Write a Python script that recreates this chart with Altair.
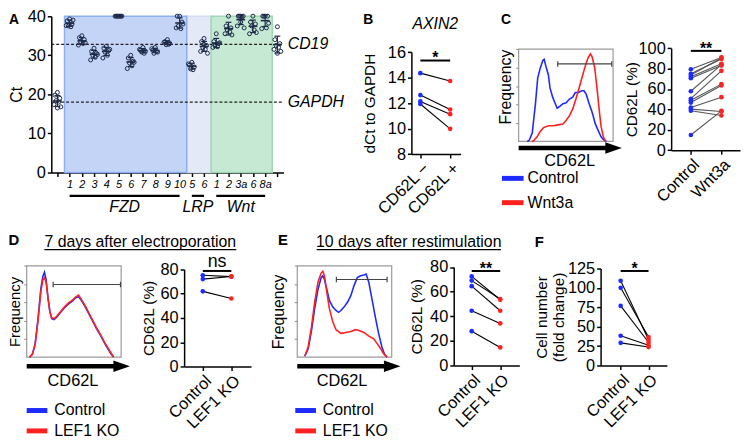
import json
import altair as alt
import pandas as pd

FONT = "Liberation Sans"
BLUE = "#1e2bff"
RED = "#ff2020"
NAVY = "#1d2a48"
TICK_FS = 16.5

# ---------------- data ----------------
A_LABELS = ["", "1", "2", "3", "4", "5", "6", "7", "8", "9", "10", "5", "6", "1", "2", "3a", "6", "8a", ""]
A_CT = [
    [20.5, 19.8, 19.0, 18.4, 18.0, 17.4, 16.8, 16.5],
    [39.3, 38.8, 38.0, 37.5, 37.3, 37.6, 39.0],
    [35.0, 34.5, 34.0, 33.5, 33.0, 32.6, 33.2],
    [31.8, 31.0, 30.5, 30.0, 29.5, 28.8, 30.2],
    [32.3, 31.8, 31.2, 30.8, 30.0, 29.3, 31.5],
    [40.0, 40.0, 40.0, 40.0, 40.0, 40.0, 40.0],
    [30.0, 29.3, 28.5, 28.0, 27.3, 26.6, 28.2],
    [32.0, 31.3, 31.0, 30.8, 30.5, 31.5],
    [32.0, 31.3, 30.8, 30.5, 31.0, 31.7],
    [34.0, 33.5, 33.0, 32.7, 32.8, 33.3],
    [40.0, 40.0, 38.5, 37.5, 36.8, 37.0, 38.0],
    [28.2, 27.5, 27.0, 26.5, 26.3, 27.8],
    [34.3, 33.5, 32.5, 32.0, 31.5, 31.0, 30.5, 32.8],
    [35.5, 33.5, 33.0, 32.5, 32.2, 32.0, 33.2],
    [40.0, 37.5, 37.0, 36.5, 36.0, 35.5, 35.2],
    [40.0, 40.0, 40.0, 40.0, 39.8, 37.5, 37.0, 38.5],
    [40.0, 38.5, 38.0, 37.5, 36.5, 35.5, 35.8],
    [40.0, 40.0, 40.0, 40.0, 37.0, 36.8, 38.2],
    [37.3, 34.0, 33.0, 32.5, 32.0, 31.5, 31.0, 30.5],
]
A_GROUPS = ["LRP", "FZD", "Wnt"]
A_GROUP_FIRST = [11, 1, 13]
A_GROUP_LAST = [12, 10, 17]
A_REF_NAMES = ["CD19", "GAPDH"]
A_REF_CT = [32.8, 18.0]

B_CATS = ["CD62L \u2212", "CD62L +"]
B_NEG = [14.35, 12.63, 12.13, 11.93]
B_POS = [13.73, 11.50, 11.13, 9.98]

C_HIST_NAMES = ["Control", "Wnt3a"]
C_X_CTRL = [9, 11, 14.4, 17.8, 20.2, 23, 25.7, 27, 29, 31.5, 33.2, 36, 38.4, 40.8, 43.5, 46.9, 50.3, 53.8,
            57.2, 60, 63.4, 66.8, 69.2, 71.6, 74.3, 77.7, 81.2, 84.6, 87.3, 89.7, 93]
C_Y_CTRL = [0, 0.01, 0.09, 0.41, 0.69, 0.80, 0.88, 0.89, 0.81, 0.72, 0.58, 0.48, 0.42, 0.36, 0.38, 0.41,
            0.42, 0.46, 0.48, 0.53, 0.53, 0.55, 0.55, 0.51, 0.42, 0.32, 0.19, 0.11, 0.05, 0.02, 0.0]
C_X_WNT = [14, 16, 19.5, 23, 26.4, 31.5, 36.6, 41.8, 46.9, 50.3, 53.8, 57.2, 60.6, 64, 67.5, 70.9, 73.6,
           76, 77.7, 80.5, 82.9, 85.3, 87.3, 89.7, 92]
C_Y_WNT = [0, 0.01, 0.05, 0.11, 0.15, 0.17, 0.17, 0.18, 0.19, 0.23, 0.28, 0.35, 0.46, 0.58, 0.71, 0.83,
           0.91, 0.95, 0.92, 0.80, 0.58, 0.34, 0.16, 0.05, 0.0]
C_CATS = ["Control", "Wnt3a"]
C_CTRL = [79.4, 75.0, 73.7, 72.0, 70.5, 57.8, 50.5, 49.0, 46.7, 41.9, 40.3, 38.7, 14.9]
C_WNT = [91.0, 89.5, 90.5, 84.8, 83.0, 84.0, 77.8, 64.8, 63.5, 52.0, 38.0, 34.0, 38.5]

D_HIST_NAMES = ["Control", "LEF1 KO"]
D_X = [3, 6, 9, 12, 15, 17, 18.8, 20.5, 22.5, 24.5, 26.5, 29, 32, 36, 40, 44, 48, 52, 55, 58, 62, 66, 70,
       74, 78, 82, 86, 89, 92]
D_Y_CTRL = [0.0, 0.03, 0.15, 0.42, 0.75, 0.88, 0.93, 0.85, 0.66, 0.50, 0.42, 0.41, 0.44, 0.49, 0.54, 0.58,
            0.61, 0.65, 0.66, 0.62, 0.55, 0.47, 0.39, 0.31, 0.24, 0.16, 0.09, 0.04, 0.0]
D_Y_KO = [0.0, 0.03, 0.14, 0.40, 0.72, 0.84, 0.87, 0.82, 0.65, 0.50, 0.43, 0.42, 0.45, 0.50, 0.55, 0.59,
          0.62, 0.66, 0.68, 0.63, 0.56, 0.48, 0.40, 0.32, 0.25, 0.17, 0.10, 0.05, 0.0]
D_CATS = ["Control", "LEF1 KO"]
D_CTRL = [75.2, 72.0, 61.9]
D_KO = [74.0, 74.2, 56.0]

E_X_CTRL = [8, 11.5, 14.9, 18.4, 21.9, 25.3, 27, 28.8, 31.3, 34, 37.5, 41, 43.8, 46.2, 49.7, 53.1, 56.6,
            60, 63.5, 67, 70.5, 72.9, 75.7, 79.2, 82.6, 86.1, 89.6, 92.4, 95]
E_Y_CTRL = [0.01, 0.09, 0.28, 0.53, 0.74, 0.87, 0.89, 0.85, 0.74, 0.62, 0.55, 0.51, 0.49, 0.51, 0.55, 0.60,
            0.67, 0.78, 0.87, 0.89, 0.90, 0.91, 0.82, 0.63, 0.44, 0.26, 0.11, 0.03, 0.0]
E_X_KO = [8, 11.5, 14.9, 18.4, 21.9, 25.3, 27, 28.8, 31.3, 34, 37.5, 41, 46.2, 51.4, 56.6, 61.8, 65.3, 70.5,
          75.7, 80.9, 84.4, 87.8, 91.3, 95]
E_Y_KO = [0.01, 0.11, 0.32, 0.60, 0.82, 0.92, 0.94, 0.89, 0.71, 0.53, 0.39, 0.30, 0.26, 0.27, 0.28, 0.30,
          0.29, 0.27, 0.23, 0.20, 0.15, 0.10, 0.04, 0.0]
E_CTRL = [72.4, 69.0, 64.5, 44.5, 27.9]
E_KO = [53.4, 54.0, 44.5, 34.2, 14.7]

F_CTRL = [109.0, 100.0, 76.7, 38.3, 29.2]
F_KO = [33.3, 36.7, 30.0, 26.0, 23.75]

# ---------------- layout / style constants ----------------
JITTER = [0, -0.2, 0.2, -0.1, 0.1, -0.28, 0.28, 0.0]
REGION_FILL = {"FZD": "#c4d4f6", "LRP": "#e3e9f7", "Wnt": "#c6e9d3"}
REGION_STROKE = {"FZD": "#8db0f2", "LRP": "#d5def3", "Wnt": "#9fd8b2"}

# the drawing surface starts 8px into the page; map page-pixel layout into it
W, H = 742, 434
SX, SY = 741 / 745, 433 / 441


def cx(p):
    return (p - 3) * SX


def cy(p):
    return p * SY


def sc(domain, page_rng, axis="x"):
    f = cx if axis == "x" else cy
    return alt.Scale(domain=domain, range=[f(page_rng[0]), f(page_rng[1])], nice=False, zero=False)


def to_data(domain, page_rng, p):
    return domain[0] + (p - page_rng[0]) / (page_rng[1] - page_rng[0]) * (domain[1] - domain[0])


def yax(page_x, values, title, pad, **kw):
    return alt.Axis(orient="left", offset=-cx(page_x), values=values, title=title, titlePadding=pad, **kw)


def xax(page_y, values, expr, angle=0, **kw):
    return alt.Axis(orient="bottom", offset=cy(page_y) - H, values=values, labelExpr=expr,
                    labelAngle=angle, title=None, **kw)


def text_at(x, y, t, xs, ys, **mk):
    df = pd.DataFrame({"x": [x], "y": [y], "t": [t]})
    return alt.Chart(df).mark_text(**mk).encode(
        x=alt.X("x:Q", scale=xs, axis=None), y=alt.Y("y:Q", scale=ys, axis=None), text="t:N")


def hseg(x0, x1, y, xs, ys, **mk):
    df = pd.DataFrame({"x0": [x0], "x1": [x1], "y": [y]})
    return alt.Chart(df).mark_rule(**mk).encode(
        x=alt.X("x0:Q", scale=xs, axis=None), x2="x1:Q", y=alt.Y("y:Q", scale=ys, axis=None))


def vsegs(xs_list, y0, y1, xs, ys, **mk):
    df = pd.DataFrame({"x": xs_list, "y0": [y0] * len(xs_list), "y1": [y1] * len(xs_list)})
    return alt.Chart(df).mark_rule(**mk).encode(
        x=alt.X("x:Q", scale=xs, axis=None), y=alt.Y("y0:Q", scale=ys, axis=None), y2="y1:Q")


layers = []

# ================= Panel A =================
AXs = sc([-0.5, 18.5], [47, 283], "x")
AYs = sc([0, 40], [167, 6], "y")
a_rows = []
for i, vals in enumerate(A_CT):
    for j, v in enumerate(vals):
        a_rows.append({"idx": i, "ct": v, "jit": JITTER[j % len(JITTER)]})
a_df = pd.DataFrame(a_rows)

reg_df = pd.DataFrame({"g": A_GROUPS, "first": A_GROUP_FIRST, "last": A_GROUP_LAST})
reg_df["fill"] = reg_df["g"].map(REGION_FILL)
reg_df["stroke"] = reg_df["g"].map(REGION_STROKE)

layers.append(
    alt.Chart(reg_df).transform_calculate(x0="datum.first - 0.42", x1="datum.last + 0.58", y0="0", y1="40")
    .mark_rect(strokeWidth=1.5)
    .encode(x=alt.X("x0:Q", scale=AXs, axis=None), x2="x1:Q",
            y=alt.Y("y0:Q", scale=AYs, axis=None), y2="y1:Q",
            fill=alt.Fill("fill:N", scale=None), stroke=alt.Stroke("stroke:N", scale=None))
)
ref_df = pd.DataFrame({"name": A_REF_NAMES, "ct": A_REF_CT})
layers.append(
    alt.Chart(ref_df).transform_calculate(x0="-0.5", x1="18.5")
    .mark_rule(strokeDash=[3, 2], color="#222", strokeWidth=1.2)
    .encode(x=alt.X("x0:Q", scale=AXs, axis=None), x2="x1:Q", y=alt.Y("ct:Q", scale=AYs, axis=None))
)
layers.append(
    alt.Chart(ref_df).transform_calculate(xt="18.85")
    .mark_text(align="left", baseline="middle", fontStyle="italic", fontSize=16)
    .encode(x=alt.X("xt:Q", scale=AXs, axis=None), y=alt.Y("ct:Q", scale=AYs, axis=None), text="name:N")
)
layers.append(
    alt.Chart(a_df).transform_calculate(xj="datum.idx + datum.jit")
    .mark_point(filled=False, size=16, color=NAVY, strokeWidth=1, opacity=1)
    .encode(
        x=alt.X("xj:Q", scale=AXs,
                axis=xax(167, list(range(19)), "%s[datum.value]" % json.dumps(A_LABELS),
                         labelFontStyle="italic", labelFontSize=11, labelPadding=2, tickSize=4)),
        y=alt.Y("ct:Q", scale=AYs, axis=yax(47, [0, 10, 20, 30, 40], "Ct", 3, titleFontSize=16)),
    )
)
agg = alt.Chart(a_df).transform_aggregate(m="mean(ct)", s="stdev(ct)", groupby=["idx"]).transform_calculate(
    lo="datum.m - datum.s", hi="datum.m + datum.s", cl="datum.idx - 0.24", cr="datum.idx + 0.24",
    ml="datum.idx - 0.36", mr="datum.idx + 0.36")
layers.append(agg.mark_rule(color=NAVY, strokeWidth=1.2).encode(
    x=alt.X("idx:Q", scale=AXs, axis=None), y=alt.Y("lo:Q", scale=AYs, axis=None), y2="hi:Q"))
for fld in ["lo", "hi"]:
    layers.append(agg.mark_rule(color=NAVY, strokeWidth=1.2).encode(
        x=alt.X("cl:Q", scale=AXs, axis=None), x2="cr:Q", y=alt.Y(fld + ":Q", scale=AYs, axis=None)))
layers.append(agg.mark_rule(color=NAVY, strokeWidth=1.6).encode(
    x=alt.X("ml:Q", scale=AXs, axis=None), x2="mr:Q", y=alt.Y("m:Q", scale=AYs, axis=None)))
layers.append(
    alt.Chart(reg_df).transform_calculate(yb="-5.96")
    .mark_rule(color="black", strokeWidth=2.2)
    .encode(x=alt.X("first:Q", scale=AXs, axis=None), x2="last:Q", y=alt.Y("yb:Q", scale=AYs, axis=None))
)
layers.append(
    alt.Chart(reg_df).transform_calculate(xm="(datum.first + datum.last) / 2", yt="-8.8")
    .mark_text(fontStyle="italic", fontSize=16, baseline="middle")
    .encode(x=alt.X("xm:Q", scale=AXs, axis=None), y=alt.Y("yt:Q", scale=AYs, axis=None), text="g:N")
)
layers.append(text_at(-3.56, 39.1, "A", AXs, AYs, fontSize=14, fontWeight="bold", baseline="middle"))


# ================= paired panels =================
def paired(ctrl, treat, cats, xs, ys, yaxis_px, xaxis_py, yticks, ytitle, tpad, line_color, sig, sig_y,
           sig_size, sig_dy, sig_weight="bold", **ykw):
    n = len(ctrl)
    wide = pd.DataFrame({"a": ctrl, "b": treat})
    out = [
        alt.Chart(wide).transform_calculate(x0="0", x1="1")
        .mark_rule(color=line_color, strokeWidth=1.1)
        .encode(x=alt.X("x0:Q", scale=xs, axis=None), x2="x1:Q",
                y=alt.Y("a:Q", scale=ys, axis=None), y2="b:Q")
    ]
    long = pd.DataFrame({"pos": [0] * n + [1] * n, "val": list(ctrl) + list(treat),
                         "grp": [cats[0]] * n + [cats[1]] * n})
    expr = "datum.value == 0 ? '%s' : '%s'" % (cats[0], cats[1])
    out.append(
        alt.Chart(long).mark_circle(size=22, opacity=1)
        .encode(
            x=alt.X("pos:Q", scale=xs, axis=xax(xaxis_py, [0, 1], expr, angle=-45, labelFontSize=16.5,
                                                 tickSize=4)),
            y=alt.Y("val:Q", scale=ys, axis=yax(yaxis_px, yticks, ytitle, tpad, **ykw)),
            color=alt.Color("grp:N", scale=alt.Scale(domain=cats, range=[BLUE, RED]), legend=None),
        )
    )
    out.append(hseg(0, 1, sig_y, xs, ys, color="black", strokeWidth=2))
    out.append(text_at(0.5, sig_y, sig, xs, ys, fontSize=sig_size, fontWeight=sig_weight,
                       baseline="alphabetic", dy=sig_dy))
    return out


# ---- B
BXs = sc([-0.3, 1.35], [413, 463], "x")
BYs = sc([8, 16], [148, 43], "y")
layers += paired(B_NEG, B_POS, B_CATS, BXs, BYs, 413, 148, [8, 10, 12, 14, 16], "dCt to GAPDH", 10,
                 "black", "*", 15.34, 16, 3)
layers.append(text_at(0.5, 18.2, "AXIN2", BXs, BYs, fontSize=16, fontStyle="italic", baseline="middle"))
layers.append(text_at(-1.75, 18.48, "B", BXs, BYs, fontSize=14, fontWeight="bold", baseline="middle"))

# ---- C scatter
CSX = sc([-0.645, 1.61], [677, 747], "x")
CSY = sc([0, 100], [144, 39], "y")
layers += paired(C_CTRL, C_WNT, C_CATS, CSX, CSY, 677, 144, [0, 20, 40, 60, 80, 100], "CD62L (%)", -1,
                 "#555555", "**", 97.4, 16, 3)
# ---- D scatter
DSX = sc([-0.655, 1.69], [182, 250], "x")
DSY = sc([0, 80], [366.7, 266.7], "y")
layers += paired(D_CTRL, D_KO, D_CATS, DSX, DSY, 182, 366.7, [0, 20, 40, 60, 80], "CD62L (%)", 4,
                 "black", "ns", 78.7, 18, -4, sig_weight="normal")
# ---- E scatter
ESX = sc([-0.63, 1.67], [456, 522.7], "x")
ESY = sc([0, 80], [365.7, 264.3], "y")
layers += paired(E_CTRL, E_KO, D_CATS, ESX, ESY, 456, 365.7, [0, 20, 40, 60, 80], "CD62L (%)", 5,
                 "black", "**", 76.8, 16, 3)
# ---- F scatter
FSX = sc([-0.72, 1.66], [605.3, 672.7], "x")
FSY = sc([0, 125], [365.7, 265.7], "y")
layers += paired(F_CTRL, F_KO, D_CATS, FSX, FSY, 605.3, 365.7, [0, 25, 50, 75, 100, 125],
                 ["Cell number", "(fold change)"], 1, "black", "*", 121.7, 16, 3, titleLineHeight=17)
layers.append(text_at(-2.92, 158.4, "F", FSX, FSY, fontSize=15, fontWeight="bold", baseline="middle"))


# ================= histograms =================
def hist(xc, yc, xt, yt, names, x_page, y_page, tpad, tfs, tanchor, gate, leg, arrow_y, lab_xy):
    xs = sc([0, 100], x_page, "x")
    ys = sc([0, 1], y_page, "y")
    out = []
    frame = pd.DataFrame({"x0": [0], "x1": [100], "y0": [0], "y1": [1]})
    yaxis = alt.Axis(orient="left", offset=-cx(x_page[0]), labels=False, domain=False, tickSize=3,
                     tickColor="#888", tickWidth=1, values=[0.2, 0.4, 0.6, 0.8, 1.0], title="Frequency",
                     titlePadding=tpad, titleFontSize=tfs, titleAnchor=tanchor)
    out.append(
        alt.Chart(frame).mark_rect(fillOpacity=0, stroke="#9a9a9a", strokeWidth=1.2)
        .encode(x=alt.X("x0:Q", scale=xs, axis=None), x2="x1:Q",
                y=alt.Y("y0:Q", scale=ys, axis=yaxis), y2="y1:Q")
    )
    curves = pd.DataFrame({"x": list(xc) + list(xt), "y": list(yc) + list(yt),
                           "s": [names[0]] * len(xc) + [names[1]] * len(xt)})
    out.append(
        alt.Chart(curves).mark_line(strokeWidth=1.6)
        .encode(
            x=alt.X("x:Q", scale=xs, axis=None), y=alt.Y("y:Q", scale=ys, axis=None),
            color=alt.Color("s:N", scale=alt.Scale(domain=names, range=[BLUE, RED]), legend=None),
        )
    )
    out.append(hseg(gate[0], gate[1], gate[2], xs, ys, color="#444", strokeWidth=1.2))
    out.append(vsegs([gate[0], gate[1]], gate[2] - 0.03, gate[2] + 0.03, xs, ys, color="#444", strokeWidth=1.2))
    out.append(hseg(0, 99, arrow_y, xs, ys, color="black", strokeWidth=4.5))
    adf = pd.DataFrame({"x": [100.5], "y": [arrow_y]})
    out.append(
        alt.Chart(adf).mark_point(shape="M-1,-0.7L1,0L-1,0.7Z", filled=True, size=280, color="black", opacity=1)
        .encode(x=alt.X("x:Q", scale=xs, axis=None), y=alt.Y("y:Q", scale=ys, axis=None))
    )
    out.append(text_at(lab_xy[0], lab_xy[1], "CD62L", xs, ys, fontSize=16.5, baseline="middle"))
    # key: swatch line + label for each series (page layout positions)
    lx0, lx1, ltx, rows = leg
    for name, col, ry in zip(names, [BLUE, RED], rows):
        yv = to_data([0, 1], y_page, ry)
        out.append(hseg(to_data([0, 100], x_page, lx0), to_data([0, 100], x_page, lx1), yv, xs, ys,
                        color=col, strokeWidth=5))
        out.append(text_at(to_data([0, 100], x_page, ltx), yv, name, xs, ys, fontSize=16, align="left",
                           baseline="middle"))
    return out, xs, ys


c_layers, CHX, CHY = hist(C_X_CTRL, C_Y_CTRL, C_X_WNT, C_Y_WNT, C_HIST_NAMES, [522, 618], [135, 40], 2, 16,
                          "end", (41.4, 98.6, 0.84), (505, 527, 531, [173, 198]), -0.07, (54, -0.21))
layers += c_layers
layers.append(text_at(-13.5, 1.316, "C", CHX, CHY, fontSize=14, fontWeight="bold", baseline="middle"))

d_layers, DHX, DHY = hist(D_X, D_Y_CTRL, D_X, D_Y_KO, D_HIST_NAMES, [22, 118], [357, 263], 0.5, 15,
                          "middle", (28, 99.3, 0.795), (22, 43, 50, [412, 433]), -0.10, (49, -0.263))
layers += d_layers
layers.append(text_at(120.3, 1.207, "7 days after electroporation", DHX, DHY, fontSize=16, baseline="alphabetic"))
layers.append(hseg(18.75, 221.9, 1.176, DHX, DHY, color="black", strokeWidth=1.2))
layers.append(text_at(-13.5, 1.277, "D", DHX, DHY, fontSize=15, fontWeight="bold", baseline="middle"))

e_layers, EHX, EHY = hist(E_X_CTRL, E_Y_CTRL, E_X_KO, E_Y_KO, D_HIST_NAMES, [297, 393], [357, 263], 7, 16,
                          "middle", (41.4, 95.1, 0.85), (295, 316, 323, [412, 433]), -0.10, (47.4, -0.263))
layers += e_layers
layers.append(text_at(118.0, 1.207, "10 days after restimulation", EHX, EHY, fontSize=16, baseline="alphabetic"))
layers.append(hseg(20.5, 215.6, 1.176, EHX, EHY, color="black", strokeWidth=1.2))
layers.append(text_at(-15.1, 1.277, "E", EHX, EHY, fontSize=15, fontWeight="bold", baseline="middle"))

chart = (
    alt.layer(*layers)
    .resolve_scale(x="independent", y="independent", color="independent")
    .properties(width=W, height=H, autosize=alt.AutoSizeParams(type="none"), padding=0)
    .configure_view(stroke=None)
    .configure_axis(domainColor="black", tickColor="black", labelColor="black", titleColor="black",
                    labelFont=FONT, titleFont=FONT, grid=False, labelFontSize=TICK_FS, titleFontSize=15.5,
                    titleFontWeight="normal", domainWidth=1.5, tickWidth=1.5, tickSize=4, labelPadding=2,
                    labelFlush=False, labelOverlap=False)
    .configure_text(font=FONT, color="black")
)
chart.save("out.html", embed_options={"renderer": "svg", "actions": False})
